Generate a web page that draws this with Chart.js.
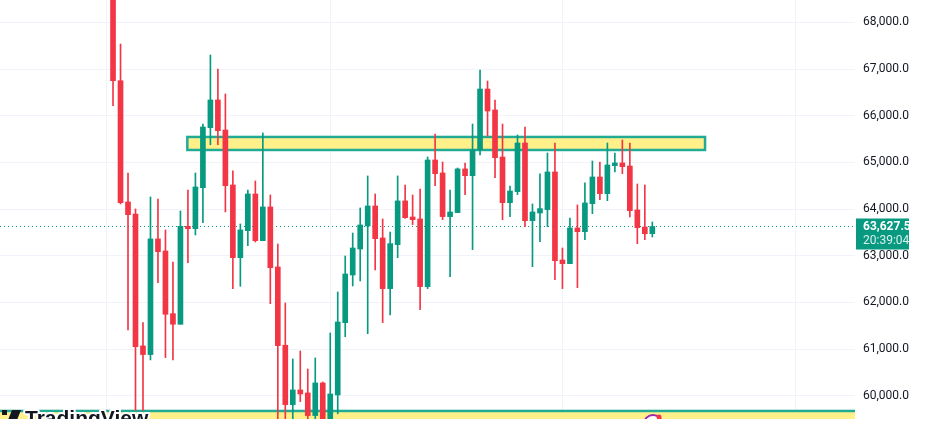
<!DOCTYPE html>
<html>
<head>
<meta charset="utf-8">
<script src="https://cdn.jsdelivr.net/npm/chart.js@4.4.0/dist/chart.umd.min.js"></script>
<style>
  html, body { margin: 0; padding: 0; background: #fff; }
  #wrap { width: 931px; height: 435px; }
</style>
</head>
<body>
<div id="wrap"><canvas id="candles"></canvas></div>
<script>
// daily candles (oldest first)
const opens = [68900, 66750, 64153, 63896, 61070, 60885, 63361, 63103, 61761, 61534,
  63632, 63581, 64459, 65744, 66337, 65694, 64517, 62960, 63538, 64324,
  63324, 64046, 62761, 61085, 59813, 60127, 60063, 59578, 60277, 59400,
  60020, 61568, 62589, 63146, 63639, 64067, 63382, 62297, 63239, 64175,
  63831, 63789, 62340, 65052, 64774, 63839, 63925, 64860, 64716, 65266,
  66572, 66123, 65116, 64138, 64374, 65416, 63753, 63917, 63989, 64795,
  62910, 62832, 63596, 63517, 64117, 64688, 64331, 64931, 64988, 64923,
  63982, 63617, 63474];
const highs = [69200, 67535, 64774, 64003, 61568, 64260, 64217, 63553, 62867, 63960,
  64410, 64774, 65822, 67300, 67000, 66465, 64817, 63682, 64410, 64603,
  65630, 64303, 63253, 61990, 60790, 60962, 60576, 60812, 60298, 61347,
  62225, 62996, 63488, 64024, 64710, 64324, 63789, 63510, 64710, 64517,
  64303, 64431, 65116, 65608, 65009, 64410, 64881, 64988, 65822, 66979,
  66743, 66337, 65822, 64495, 65587, 65758, 64110, 64753, 65202, 65416,
  63167, 63810, 64089, 64560, 65030, 65009, 65416, 65202, 65480, 65416,
  64538, 64517, 63724];
const lows = [66214, 64110, 61412, 59690, 59690, 60770, 62425, 60820, 60770, 61534,
  62853, 63446, 63710, 65379, 65379, 63939, 62297, 62347, 63217, 63296,
  63324, 61975, 59400, 59350, 59450, 59877, 59400, 59350, 59250, 59300,
  59614, 61268, 62354, 62461, 61332, 62697, 61569, 61733, 62960, 63800,
  63667, 61847, 62297, 64502, 63774, 62553, 63925, 64310, 63131, 65159,
  65565, 64673, 63774, 63839, 64310, 63625, 62767, 63303, 63625, 62489,
  62297, 62832, 62318, 63346, 63903, 64203, 64181, 64795, 64759, 63832,
  63260, 63346, 63403];
const closes = [66750, 64138, 63881, 61055, 60885, 63361, 63089, 61748, 61534, 63632,
  63581, 64474, 65758, 66337, 65679, 64502, 62960, 63553, 64324, 63324,
  64046, 62746, 61076, 59813, 60127, 60041, 59578, 60277, 59400, 60041,
  61583, 62610, 63167, 63660, 64067, 63367, 62297, 63260, 64175, 63817,
  63774, 62340, 65052, 64759, 63839, 63939, 64860, 64716, 65266, 66572,
  66101, 65101, 64138, 64388, 65416, 63753, 63939, 64010, 64795, 62896,
  62832, 63596, 63517, 64132, 64688, 64331, 64945, 64988, 64909, 63967,
  63603, 63474, 63627.5];

const priceTicks = [60000, 61000, 62000, 63000, 64000, 65000, 66000, 67000, 68000];
const monthTicks = [0, 30, 61, 92];   // candle slots where a new month starts
const countdown = '20:39:04';

// drawn zones: [from candle, to candle, low price, high price]
const upperZone = [10.92, 80.04, 65266, 65545];
const lowerZone = [-20, 120, 59000, 59677];

const UP = '#089981';
const DOWN = '#f23645';
const GRID = '#f0f3fa';
const CUT_X = 909;   // screenshot ends here

const days = opens.map((_, i) => i + 1);
const colors = days.map((_, i) => closes[i] >= opens[i] ? UP : DOWN);

const fmt = v => v.toLocaleString('en-US', { minimumFractionDigits: 2, maximumFractionDigits: 2 });

const noPad = s => { s.paddingTop = 0; s.paddingBottom = 0; s.paddingLeft = 0; s.paddingRight = 0; };

const overlays = {
  id: 'overlays',
  beforeDatasetsDraw(chart) {
    const { ctx, chartArea, scales: { x, y } } = chart;
    ctx.save();
    ctx.beginPath();
    ctx.rect(chartArea.left, chartArea.top, chartArea.width, chartArea.height);
    ctx.clip();
    // month separators
    ctx.strokeStyle = GRID;
    ctx.lineWidth = 1;
    monthTicks.forEach(m => {
      const gx = Math.round(x.getPixelForValue(m)) + 0.5;
      ctx.beginPath();
      ctx.moveTo(gx, chartArea.top);
      ctx.lineTo(gx, chartArea.bottom);
      ctx.stroke();
    });
    [upperZone, lowerZone].forEach(z => {
      const x0 = x.getPixelForValue(z[0]);
      const x1 = x.getPixelForValue(z[1]);
      const y0 = y.getPixelForValue(z[3]);
      const y1 = y.getPixelForValue(z[2]);
      ctx.fillStyle = '#fff08a';
      ctx.fillRect(x0, y0, x1 - x0, y1 - y0);
      ctx.strokeStyle = '#22ab94';
      ctx.lineWidth = 2.5;
      ctx.strokeRect(x0, y0, x1 - x0, y1 - y0);
    });
    // last price line
    const py = Math.round(y.getPixelForValue(closes[closes.length - 1])) + 0.5;
    ctx.strokeStyle = UP;
    ctx.lineWidth = 1;
    ctx.setLineDash([1, 3]);
    ctx.beginPath();
    ctx.moveTo(chartArea.left, py);
    ctx.lineTo(chartArea.right, py);
    ctx.stroke();
    ctx.restore();
  },
  afterDraw(chart) {
    const { ctx, chartArea, scales: { y } } = chart;
    const last = closes[closes.length - 1];
    const py = y.getPixelForValue(last);
    ctx.save();
    ctx.fillStyle = UP;
    ctx.fillRect(chartArea.right + 1, py - 8, 80, 31);
    ctx.fillStyle = '#ffffff';
    ctx.font = 'bold 12px Roboto, sans-serif';
    ctx.textBaseline = 'middle';
    ctx.fillText(fmt(last), chartArea.right + 8, py + 1);
    ctx.font = '12px Roboto, sans-serif';
    ctx.fillStyle = 'rgba(255,255,255,0.85)';
    ctx.fillText(countdown, chartArea.right + 8, py + 15);
    // the capture is cut before the canvas edge
    ctx.fillStyle = '#ffffff';
    ctx.fillRect(CUT_X, 0, chart.width - CUT_X, chart.height);
    ctx.restore();

    // watermark + event badge, cut by the pane bottom
    ctx.save();
    ctx.beginPath();
    ctx.rect(chartArea.left, chartArea.top, chartArea.width, chartArea.height);
    ctx.clip();
    const by = chartArea.bottom;
    ctx.font = 'bold 21px "Liberation Sans", Arial, sans-serif';
    ctx.lineJoin = 'round';
    ctx.strokeStyle = '#ffffff';
    ctx.lineWidth = 4;
    ctx.strokeText('TradingView', 25, by + 6);
    ctx.fillStyle = '#131722';
    ctx.fillText('TradingView', 25, by + 6);
    ctx.fillRect(2, by - 9, 5, 5);
    ctx.beginPath();
    ctx.moveTo(12, by - 9);
    ctx.lineTo(21, by - 9);
    ctx.lineTo(15, by + 6);
    ctx.lineTo(6, by + 6);
    ctx.closePath();
    ctx.fill();

    ctx.beginPath();
    ctx.arc(653, by + 5, 9, 0, Math.PI * 2);
    ctx.fillStyle = '#ffffff';
    ctx.fill();
    ctx.strokeStyle = '#9c27b0';
    ctx.lineWidth = 2;
    ctx.stroke();
    ctx.beginPath();
    ctx.arc(659, by - 2, 2.5, 0, Math.PI * 2);
    ctx.fillStyle = DOWN;
    ctx.fill();
    ctx.restore();
  }
};

new Chart(document.getElementById('candles'), {
  type: 'bar',
  data: {
    datasets: [
      {
        label: 'wick',
        data: days.map((d, i) => ({ x: d, y: [lows[i], highs[i]] })),
        backgroundColor: colors,
        barThickness: 1,
        grouped: false,
        order: 2
      },
      {
        label: 'body',
        data: days.map((d, i) => ({ x: d, y: [opens[i], closes[i]] })),
        backgroundColor: colors,
        barThickness: 5,
        minBarLength: 1,
        grouped: false,
        order: 1
      }
    ]
  },
  options: {
    responsive: true,
    maintainAspectRatio: false,
    animation: false,
    layout: { padding: { left: 0, right: 0, top: 0, bottom: 16 } },
    plugins: { legend: { display: false }, tooltip: { enabled: false } },
    scales: {
      x: {
        type: 'linear',
        min: -14.09,
        max: 100.06,
        offset: false,
        display: true,
        border: { display: false },
        grid: { display: false },
        ticks: { display: false },
        afterFit: s => { s.height = 0; noPad(s); }
      },
      y: {
        position: 'right',
        min: 59505,
        max: 68478,
        border: { display: false },
        grid: { color: GRID, drawTicks: false },
        ticks: {
          color: '#131722',
          font: { family: 'Roboto, sans-serif', size: 12 },
          padding: 8,
          callback: v => fmt(v)
        },
        afterBuildTicks: s => { s.ticks = priceTicks.map(v => ({ value: v })); },
        afterFit: s => { s.width = 76; noPad(s); }
      }
    }
  },
  plugins: [overlays]
});
</script>
</body>
</html>
